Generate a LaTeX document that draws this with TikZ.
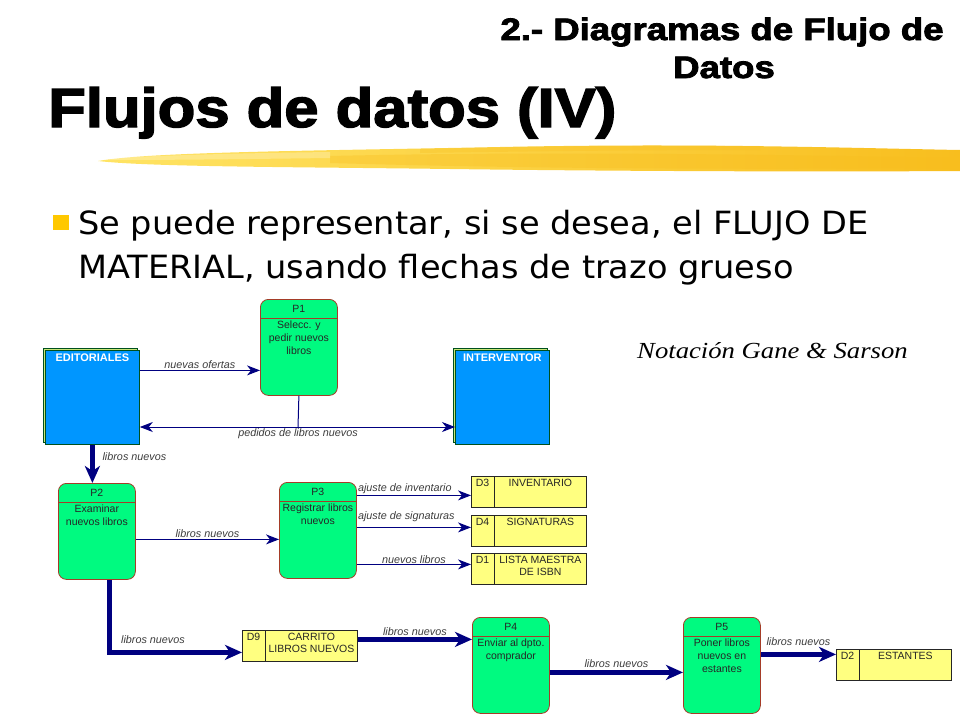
\documentclass[tikz,border=0pt]{standalone}
\usepackage{fontspec}
\setmainfont{Liberation Sans}
\newfontfamily\bodyfont[FakeStretch=1.05]{DejaVu Sans}
\newfontfamily\heavyfont[FakeBold=2.5]{Liberation Sans Bold}
\newfontfamily\notafont{Liberation Serif}
\usetikzlibrary{arrows.meta,calc}
\definecolor{procgreen}{RGB}{0,250,128}
\definecolor{procborder}{RGB}{165,60,40}
\definecolor{entblue}{RGB}{0,150,255}
\definecolor{entborder}{RGB}{0,80,30}
\definecolor{entshade}{RGB}{200,230,120}
\definecolor{storeyellow}{RGB}{255,255,128}
\definecolor{flow}{RGB}{0,0,128}
\definecolor{bulletorange}{RGB}{255,200,0}
\definecolor{brushA}{RGB}{255,228,100}
\definecolor{brushB}{RGB}{248,190,30}
\definecolor{lblgray}{RGB}{60,60,60}

\newcommand\procnode[5]{%
  \node[procbox] (#1) at (#2,#3) {};
  \draw[procline] ([yshift=-19pt]#1.north west) -- ([yshift=-19pt]#1.north east);
  \node[ptxt] (#1id) at ([yshift=-9.5pt]#1.north) {#4};
  \node[ptxt, anchor=north] (#1txt) at ([yshift=-22pt]#1.north) {#5};
}
\newcommand\storenode[5]{%
  \node[storebox] (#1) at (#2,#3) {};
  \draw[storeline] ([xshift=23pt]#1.north west) -- ([xshift=23pt]#1.south west);
  \node[ptxt, anchor=north] (#1id) at ([xshift=11.5pt,yshift=-3pt]#1.north west) {#4};
  \node[stxt, anchor=north] (#1txt) at ([xshift=11.5pt,yshift=-3pt]#1.north) {#5};
}
\newcommand\entnode[4]{%
  \node[entshadow] (#1sh) at (#2-2,#3-2) {};
  \node[entbox] (#1) at (#2,#3) {};
  \node[enttxt, anchor=north] (#1txt) at ([yshift=-4pt]#1.north) {#4};
}

\begin{document}
\begin{tikzpicture}[x=1pt,y=-1pt,
  procbox/.style={draw=procborder, fill=procgreen, rounded corners=8pt, minimum width=77pt, minimum height=96pt, inner sep=0pt, anchor=north west, line width=0.8pt},
  procline/.style={draw=procborder, line width=0.8pt},
  storebox/.style={draw=black!85, fill=storeyellow, minimum width=115pt, minimum height=31pt, inner sep=0pt, anchor=north west, line width=0.8pt},
  storeline/.style={draw=black!85, line width=0.8pt},
  entbox/.style={draw=entborder, fill=entblue, minimum width=94pt, minimum height=94pt, inner sep=0pt, anchor=north west, line width=0.8pt},
  entshadow/.style={draw=entborder, fill=entshade, minimum width=94pt, minimum height=94pt, inner sep=0pt, anchor=north west, line width=0.8pt},
  enttxt/.style={font=\bfseries\fontsize{11}{13}\selectfont, text=white, inner sep=0pt},
  ptxt/.style={font=\fontsize{10.5}{13}\selectfont, text=black!85, align=center, inner sep=0pt},
  stxt/.style={font=\fontsize{10.5}{12}\selectfont, text=black!85, align=center, inner sep=0pt},
  lbl/.style={font=\fontsize{10.8}{12}\selectfont\itshape, text=lblgray, inner sep=1pt},
  thinline/.style={draw=flow, line width=1pt},
  thinflow/.style={draw=flow, line width=1pt, -{Stealth[length=13pt,width=10pt,inset=4pt]}},
  thickflow/.style={draw=flow, line width=4.5pt, -{Stealth[length=17pt,width=15pt,inset=5pt]}}
]
\useasboundingbox (0,0) rectangle (960,720);

% brush stroke
\shade[left color=brushA, right color=brushB]
  (98,161) .. controls (150,152) and (300,151) .. (500,147)
  .. controls (700,143) and (850,148) .. (960,150) -- (960,171)
  .. controls (800,172) and (600,171) .. (450,169)
  .. controls (300,167) and (150,167) .. (98,161) -- cycle;
\fill[brushB, opacity=0.35] (330,156) .. controls (500,152) and (700,153) .. (960,158) -- (960,168) .. controls (700,170) and (500,168) .. (330,163) -- cycle;
\fill[white, opacity=0.25] (110,158) .. controls (200,154) and (260,153) .. (330,152) -- (330,158) .. controls (250,159) and (180,160) .. (110,160) -- cycle;
\fill[brushB, opacity=0.3] (420,149) .. controls (550,146) and (650,145) .. (760,146) -- (760,150) .. controls (650,150) and (550,151) .. (420,153) -- cycle;

% titles
\node[anchor=base west, font=\heavyfont\fontsize{55}{60}\selectfont, inner sep=0pt] (title) at (48,127) {\scalebox{1.12}[1]{Flujos de datos (IV)}};
\node[anchor=base, font=\heavyfont\fontsize{31}{36}\selectfont, inner sep=0pt] (head1) at (722,40) {\scalebox{1.18}[1]{2.- Diagramas de Flujo de}};
\node[anchor=base, font=\heavyfont\fontsize{31}{36}\selectfont, inner sep=0pt] (head2) at (724,78) {\scalebox{1.18}[1]{Datos}};

% bullet text
\node[fill=bulletorange, minimum width=16pt, minimum height=15pt, inner sep=0pt, anchor=north west] (bullet) at (53,215) {};
\node[anchor=base west, font=\bodyfont\fontsize{32}{38}\selectfont, inner sep=0pt] (body1) at (78,234) {Se puede representar, si se desea, el FLUJO DE};
\node[anchor=base west, font=\bodyfont\fontsize{32}{38}\selectfont, inner sep=0pt] (body2) at (78,278) {MATERIAL, usando flechas de trazo grueso};

\node[anchor=base west, font=\notafont\itshape\fontsize{23}{26}\selectfont, inner sep=0pt] (nota) at (637,358) {\scalebox{1.16}[1]{Notación Gane \& Sarson}};

% entities
\entnode{ed}{45}{350}{EDITORIALES}
\entnode{iv}{455}{350}{INTERVENTOR}

% processes
\procnode{p1}{260}{299}{P1}{Selecc. y\\pedir nuevos\\libros}
\procnode{p2}{58}{483}{P2}{Examinar\\nuevos libros}
\procnode{p3}{279}{482}{P3}{Registrar libros\\nuevos}
\procnode{p4}{472}{617}{P4}{Enviar al dpto.\\comprador}
\procnode{p5}{683}{617}{P5}{Poner libros\\nuevos en\\estantes}

% stores
\storenode{d3}{471}{476}{D3}{INVENTARIO}
\storenode{d4}{471}{515}{D4}{SIGNATURAS}
\storenode{d1}{471}{553}{D1}{LISTA MAESTRA\\DE ISBN}
\storenode{d9}{242}{630}{D9}{CARRITO\\LIBROS NUEVOS}
\storenode{d2}{836}{649}{D2}{ESTANTES}

% flows
\draw[thinflow] ([yshift=27pt]ed.east) -- ([yshift=27pt]ed.east -| p1.west)
  node[lbl, midway, above] (l1) {nuevas ofertas};

\coordinate (pj) at (298,427);
\draw[thinline] (p1.south) -- (pj);
\draw[thinflow] (pj) -- (pj -| ed.east);
\draw[thinflow] (pj) -- (pj -| iv.west);
\node[lbl, anchor=north] (l2) at ([yshift=-0.5pt]pj) {pedidos de libros nuevos};

\draw[thickflow] (ed.south) -- (ed.south |- p2.north);
\node[lbl, anchor=west] (l3) at ([xshift=9pt,yshift=-12pt]ed.south) {libros nuevos};

\draw[thinflow] ([yshift=-8pt]p2.east) -- ([yshift=-8pt]p2.east -| p3.west)
  node[lbl, midway, above] (l4) {libros nuevos};

\path ([yshift=-3.5pt]d3.west) coordinate (a3)
      ([yshift=3.5pt]d4.west) coordinate (a4)
      ([yshift=4.5pt]d1.west) coordinate (a1);
\draw[thinflow] (a3 -| p3.east) -- (a3);
\draw[thinflow] (a4 -| p3.east) -- (a4);
\draw[thinflow] (a1 -| p3.east) -- (a1);
\node[lbl, anchor=south west] (l5) at (a3 -| p3.east) {ajuste de inventario};
\node[lbl, anchor=south west] (l6) at ([yshift=4pt]a4 -| p3.east) {ajuste de signaturas};
\node[lbl, anchor=south] (l7) at ($(a1 -| p3.east)!0.5!(a1)$) {nuevos libros};

\path ([yshift=-6.5pt]d9.west) coordinate (c9);
\draw[thickflow] ([xshift=12.5pt]p2.south) |- (c9);
\node[lbl] (l8) at (153,640) {libros nuevos};

\draw[thickflow] ([yshift=6.5pt]d9.east) -- ([yshift=6.5pt]d9.east -| p4.west)
  node[lbl, midway, above, yshift=1pt] (l9) {libros nuevos};

\draw[thickflow] ([yshift=-7pt]p4.east) -- ([yshift=-7pt]p4.east -| p5.west)
  node[lbl, midway, above, yshift=2pt] (l10) {libros nuevos};

\draw[thickflow] ([yshift=10.5pt]d2.west -| p5.east) -- ([yshift=10.5pt]d2.west)
  node[lbl, midway, above, yshift=6pt] (l11) {libros nuevos};
\end{tikzpicture}
\end{document}
